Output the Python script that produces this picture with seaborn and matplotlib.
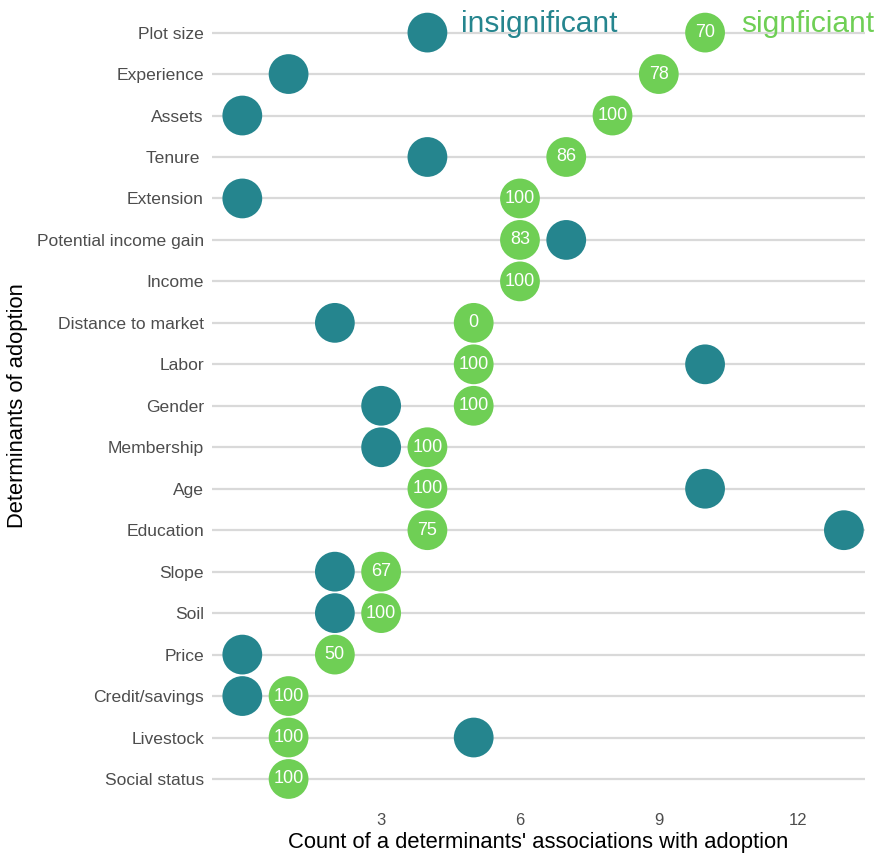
import numpy as np
import pandas as pd
import matplotlib.pyplot as plt
import seaborn as sns

determinants = ["Plot size", "Experience", "Assets", "Tenure ", "Extension",
                "Potential income gain", "Income", "Distance to market", "Labor",
                "Gender", "Membership", "Age", "Education", "Slope", "Soil",
                "Price", "Credit/savings", "Livestock", "Social status"]
significant = [10, 9, 8, 7, 6, 6, 6, 5, 5, 5, 4, 4, 4, 3, 3, 2, 1, 1, 1]
insignificant = [4, 1, 0, 4, 0, 7, np.nan, 2, 10, 3, 3, 10, 13, 2, 2, 0, 0, 5, np.nan]
pct_labels = [70, 78, 100, 86, 100, 83, 100, 0, 100, 100, 100, 100, 75, 67, 100, 50, 100, 100, 100]

teal = "#25858E"
green = "#6FCF55"

df = pd.DataFrame({
    "det": determinants * 2,
    "count": significant + insignificant,
    "type": ["signficiant"] * len(determinants) + ["insignificant"] * len(determinants),
}).dropna()

sns.set_theme(style="white")
plt.rcParams['font.family'] = ['Liberation Sans', 'DejaVu Sans']

fig = plt.figure(figsize=(8.77, 8.57), dpi=100)
ax = fig.add_axes([0.242, 0.062, 0.744, 0.929])

for i in range(len(determinants)):
    ax.axhline(i, color="#D9D9D9", lw=1.6, zorder=0)

sns.scatterplot(data=df, x="count", y="det", hue="type",
                palette={"signficiant": green, "insignificant": teal},
                hue_order=["insignificant", "signficiant"],
                s=820, linewidth=0, alpha=1, legend=False, ax=ax, zorder=3)

for i, (x, lab) in enumerate(zip(significant, pct_labels)):
    ax.text(x, i, str(lab), color="white", ha="center", va="center",
            fontsize=13, zorder=4)

ax.text(4.72, -0.2, "insignificant", color=teal, fontsize=21.5, ha="left", va="center")
ax.text(10.78, -0.2, "signficiant", color=green, fontsize=21.5, ha="left", va="center")

ax.set_xlim(-0.65, 13.45)
ax.set_ylim(len(determinants) - 0.4, -0.6)
ax.set_xticks([3, 6, 9, 12])
ax.tick_params(axis="x", colors="#4D4D4D", labelsize=12, length=3, width=0.8)
ax.tick_params(axis="y", colors="#4D4D4D", labelsize=12.6, length=0, pad=6)
for sp in ax.spines.values():
    sp.set_visible(False)
ax.set_xlabel("Count of a determinants' associations with adoption", fontsize=15.8, color="black", labelpad=3)
ax.set_ylabel("Determinants of adoption", fontsize=15.8, color="black", labelpad=6)

fig.savefig("out.png", dpi=100)
